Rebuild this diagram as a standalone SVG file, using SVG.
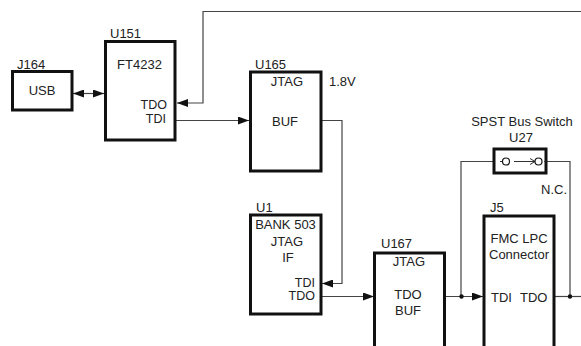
<svg xmlns="http://www.w3.org/2000/svg" width="581" height="346" viewBox="0 0 581 346">
<style>
text{font-family:"Liberation Sans",Arial,sans-serif;font-size:13px;fill:#222}
.m{text-anchor:middle}
.e{text-anchor:end}
text.p{font-size:12.500px}
.b{fill:#fff;stroke:#111;stroke-width:3}
.c{fill:none;stroke:#444;stroke-width:1.2}
.a{fill:#111}
</style>
<defs>
<marker id="ah" markerUnits="userSpaceOnUse" markerWidth="12" markerHeight="8" refX="11" refY="4" orient="auto-start-reverse"><path d="M0 0L11 4L0 8Z" fill="#111"/></marker>
</defs>
<rect width="581" height="346" fill="#fff"/>
<g id="connectors">
<path class="c" d="M73 93.500H104" marker-start="url(#ah)" marker-end="url(#ah)"/>
<path class="c" d="M581 11.500H203V103H177" marker-end="url(#ah)"/>
<path class="c" d="M176 120.500H249" marker-end="url(#ah)"/>
<path class="c" d="M322 120.500H342V283.500H322" marker-end="url(#ah)"/>
<path class="c" d="M322 296.500H374" marker-end="url(#ah)"/>
<path class="c" d="M445 296.500H483" marker-end="url(#ah)"/>
<path class="c" d="M461 296.500V161.500H493"/>
<path class="c" d="M546 161.500H570V296.500"/>
<path class="c" d="M555 296.500H581"/>
<circle class="a" cx="461.500" cy="296.500" r="2.200"/>
<circle class="a" cx="570" cy="296.500" r="2.200"/>
</g>
<g id="J164"><rect class="b" x="12.500" y="71.500" width="59.500" height="38.500"/><text x="17" y="69">J164</text><text class="m" x="42" y="95">USB</text></g>
<g id="U151"><rect class="b" x="105.500" y="41.500" width="69.500" height="98.500"/><text x="110" y="38">U151</text><text class="m" x="139.500" y="69">FT4232</text><text class="e p" x="167" y="109">TDO</text><text class="e p" x="166" y="122.500">TDI</text></g>
<g id="U165"><rect class="b" x="250.500" y="72" width="70.500" height="99"/><text x="255" y="69">U165</text><text class="m" x="287" y="86">JTAG</text><text class="m" x="285" y="126">BUF</text><text x="329" y="86">1.8V</text></g>
<g id="U1"><rect class="b" x="250.500" y="215" width="70.500" height="99"/><text x="256" y="212">U1</text><text class="m" x="285.500" y="229">BANK 503</text><text class="m" x="287" y="246">JTAG</text><text class="m" x="288" y="262">IF</text><text class="e p" x="315" y="286.500">TDI</text><text class="e p" x="315" y="300">TDO</text></g>
<g id="U167"><rect class="b" x="374.500" y="253" width="70" height="100"/><text x="381" y="248">U167</text><text class="m" x="409" y="266">JTAG</text><text class="m" x="408" y="299">TDO</text><text class="m" x="408" y="315">BUF</text></g>
<g id="U27"><rect class="b" x="494" y="149" width="52" height="24"/><text class="m" x="522" y="126">SPST Bus Switch</text><text class="m" x="521" y="142">U27</text><path d="M500 161.500H506M514 161.500H535M530 158.500L535 161.500L530 164.500M544 161.500H546" fill="none" stroke="#333" stroke-width="1"/><circle cx="506" cy="161.500" r="3.500" fill="#fff" stroke="#111" stroke-width="1.200"/><circle cx="538.500" cy="161.500" r="3.500" fill="#fff" stroke="#111" stroke-width="1.200"/><text x="541" y="194">N.C.</text></g>
<g id="J5"><rect class="b" x="484" y="216" width="70" height="137"/><text x="490" y="212">J5</text><text class="m" x="519" y="243">FMC LPC</text><text class="m" x="519" y="259">Connector</text><text x="491" y="302">TDI</text><text x="520" y="302">TDO</text></g>
</svg>
